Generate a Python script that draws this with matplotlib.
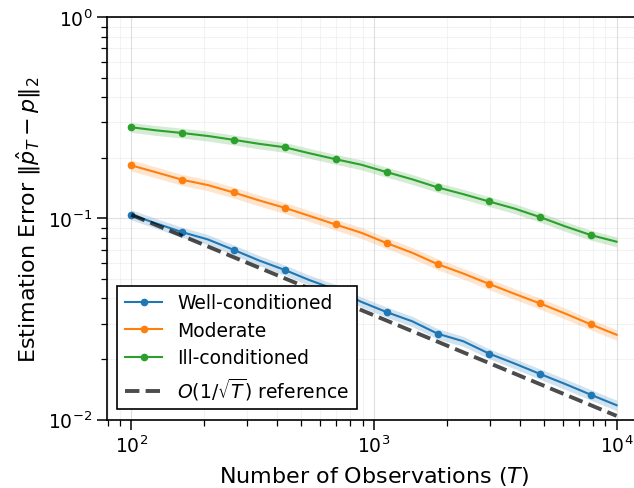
import numpy as np
import matplotlib
matplotlib.use("Agg")
import matplotlib.pyplot as plt

# number of observations (log grid)
T = [100, 127, 162, 207, 264, 336, 428, 546, 695, 886,
     1129, 1438, 1833, 2336, 2976, 3793, 4833, 6158, 7848, 10000]

# mean estimation error per condition
well = [0.1043, 0.0944, 0.0855, 0.0786, 0.0698, 0.0618, 0.0555, 0.0492, 0.0443, 0.0385,
        0.0342, 0.0308, 0.0267, 0.0245, 0.0213, 0.0190, 0.01686, 0.0150, 0.01327, 0.01178]
moderate = [0.1836, 0.1694, 0.1557, 0.1465, 0.1346, 0.1230, 0.1130, 0.1027, 0.0933, 0.0849,
            0.0754, 0.0675, 0.0592, 0.0532, 0.0473, 0.0422, 0.0378, 0.0336, 0.0297, 0.0264]
ill = [0.284, 0.274, 0.266, 0.257, 0.246, 0.235, 0.226, 0.2105, 0.197, 0.185,
       0.170, 0.1565, 0.1426, 0.1320, 0.1215, 0.112, 0.1016, 0.0912, 0.0826, 0.0766]

# spread (std) around each mean
well_sd = [0.0060, 0.0054, 0.0049, 0.0045, 0.0040, 0.0036, 0.0032, 0.0029, 0.0026, 0.0022,
           0.0020, 0.0018, 0.0016, 0.0014, 0.0012, 0.0011, 0.0010, 0.0009, 0.0008, 0.0007]
moderate_sd = [0.0115, 0.0106, 0.0098, 0.0092, 0.0084, 0.0077, 0.0071, 0.0064, 0.0058, 0.0053,
               0.0047, 0.0042, 0.0037, 0.0033, 0.0030, 0.0026, 0.0024, 0.0021, 0.0018, 0.0016]
ill_sd = [0.0160, 0.0155, 0.0150, 0.0145, 0.0139, 0.0133, 0.0127, 0.0119, 0.0111, 0.0106,
          0.0096, 0.0089, 0.0080, 0.0075, 0.0068, 0.0063, 0.0057, 0.0051, 0.0047, 0.0043]

labels = ["Well-conditioned", "Moderate", "Ill-conditioned"]
colors = ["#1f77b4", "#ff7f0e", "#2ca02c"]

T = np.array(T, dtype=float)
series = [(np.array(well), np.array(well_sd)),
          (np.array(moderate), np.array(moderate_sd)),
          (np.array(ill), np.array(ill_sd))]

fig = plt.figure(figsize=(6.34, 4.89), dpi=100)
ax = fig.add_axes([0.1688, 0.140, 0.842, 0.8225])

for (m, s), lab, c in zip(series, labels, colors):
    ax.plot(T, m, "-o", color=c, lw=1.5, ms=4.5, markevery=2, label=lab)
    ax.fill_between(T, m - s, m + s, color=c, alpha=0.2, lw=0)

# O(1/sqrt(T)) reference anchored at the first well-conditioned point
ref = well[0] * np.sqrt(T[0] / T)
ax.plot(T, ref, "k--", lw=2.8, alpha=0.7, label=r"$O(1/\sqrt{T})$ reference")

ax.set_xscale("log")
ax.set_yscale("log")
ax.set_ylim(1e-2, 1e0)
ax.grid(True, which="major", alpha=0.4)
ax.grid(True, which="minor", alpha=0.15)
ax.tick_params(which="major", length=7, width=1.1, labelsize=13.5)
ax.tick_params(which="minor", length=4, width=0.9)
for sp in ax.spines.values():
    sp.set_linewidth(1.2)

ax.set_xlabel(r"Number of Observations ($T$)", fontsize=16, labelpad=6)
ax.set_ylabel(r"Estimation Error $\|\hat{p}_T - p\|_2$", fontsize=16)

leg = ax.legend(loc="lower left", fontsize=13.5, fancybox=False, edgecolor="black",
                framealpha=1, borderaxespad=0.55, labelspacing=0.45)
leg.get_frame().set_linewidth(1.2)

fig.savefig("out.png", dpi=100)
